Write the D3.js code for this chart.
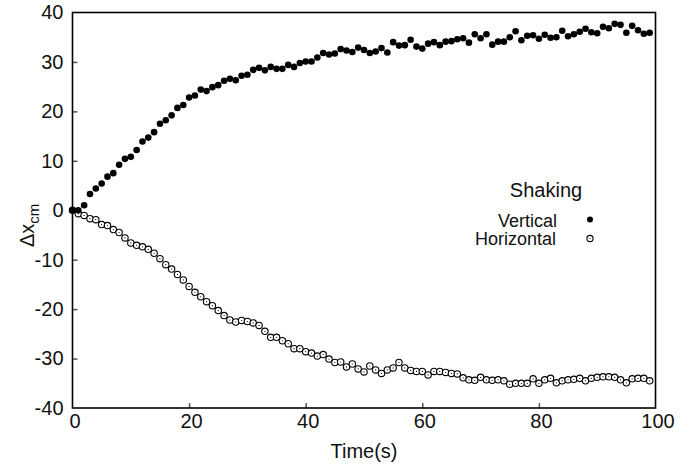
<!DOCTYPE html>
<html lang="en">
<head>
    <meta charset="UTF-8">
    <script src="https://d3js.org/d3.v7.min.js"></script>
    <title>Shaking</title>
    <style>
        body { margin: 0; background: #fff; }
        text { font-family: "Liberation Sans", Arial, sans-serif; fill: #111; }
        .tick line { stroke: #555; stroke-width: 1.5px; }
        .domain { display: none; }
    </style>
</head>
<body>
    <div id="chart"></div>
</body>
<script>
    // data
    var time = [0,1,2,3,4,5,6,7,8,9,10,11,12,13,14,15,16,17,18,19,
                20,21,22,23,24,25,26,27,28,29,30,31,32,33,34,35,36,37,38,39,
                40,41,42,43,44,45,46,47,48,49,50,51,52,53,54,55,56,57,58,59,
                60,61,62,63,64,65,66,67,68,69,70,71,72,73,74,75,76,77,78,79,
                80,81,82,83,84,85,86,87,88,89,90,91,92,93,94,95,96,97,98,99];
    var vertical = [0,0,1.0,3.3,4.4,5.4,6.8,7.5,9.2,10.4,10.8,12.2,13.9,14.7,15.8,17.5,18.2,19.2,20.7,21.3,
                    22.8,23.2,24.4,24.1,24.9,25.3,26.2,26.6,26.3,27.2,27.4,28.4,28.8,28.3,29.0,28.6,28.6,29.4,29.0,29.8,
                    30.1,30.1,30.9,31.8,31.5,31.7,32.6,32.3,32.0,32.9,32.4,31.8,32.1,32.8,31.9,34.0,33.3,33.4,34.5,33.1,
                    32.7,33.7,34.0,33.4,34.1,34.2,34.6,34.8,33.9,35.6,34.8,35.6,33.5,34.1,34.1,35.0,36.2,34.4,35.3,35.4,
                    34.7,35.5,34.9,35.0,36.3,35.2,35.6,36.1,36.7,36.0,35.8,37.1,36.8,37.7,37.5,35.9,37.3,36.4,35.7,35.9];
    var horizontal = [0,-0.7,-1.05,-1.7,-1.9,-2.9,-3.1,-3.9,-4.5,-5.6,-6.6,-7.1,-7.4,-7.9,-8.7,-9.8,-11.0,-11.9,-13.0,-14.1,
                      -15.4,-16.6,-17.5,-18.5,-19.3,-20.3,-21.3,-22.2,-22.6,-22.3,-22.5,-22.8,-23.3,-24.5,-25.7,-25.7,-26.4,-27.0,-28.0,-28.0,
                      -28.6,-28.9,-29.5,-29.2,-30.1,-30.8,-30.7,-31.7,-31.1,-32.1,-32.7,-31.5,-32.3,-33.0,-32.3,-31.9,-30.8,-31.9,-32.4,-32.6,
                      -32.6,-33.3,-32.6,-32.6,-32.8,-33.0,-33.1,-33.9,-34.3,-34.4,-33.8,-34.3,-34.4,-34.3,-34.5,-35.2,-35.0,-35.0,-35.0,-34.1,
                      -35.0,-34.3,-34.0,-34.9,-34.5,-34.3,-34.2,-34.0,-34.5,-34.0,-33.8,-33.7,-33.7,-33.8,-34.3,-34.9,-34.1,-34.0,-34.0,-34.5];
    var xTicks = [0, 20, 40, 60, 80, 100];
    var yTicks = [-40, -30, -20, -10, 0, 10, 20, 30, 40];
    var legendTitle = "Shaking";
    var seriesNames = ["Vertical", "Horizontal"];

    var W = 699, H = 468;
    var margin = {top: 12.5, right: 43.5, bottom: 60, left: 72.5};

    var svg = d3.select("#chart").append("svg")
                .attr("width", W).attr("height", H);

    var x = d3.scaleLinear().domain([0, 100]).range([margin.left, W - margin.right]);
    var y = d3.scaleLinear().domain([-40, 40]).range([H - margin.bottom, margin.top]);

    // plain hyphen for negatives, like the original
    var fmt = function(d) { return String(d); };

    // axes, ticks pointing inward
    var gx = svg.append("g").attr("transform", "translate(0," + y(-40) + ")")
        .call(d3.axisBottom(x).tickValues(xTicks).tickFormat(fmt).tickSizeInner(-5).tickSizeOuter(0).tickPadding(6));
    gx.selectAll("text").attr("font-size", 20).attr("dx", 2);
    gx.selectAll(".tick").filter(function(d) { return d === 0 || d === 100; }).select("line").remove();

    var gy = svg.append("g").attr("transform", "translate(" + x(0) + ",0)")
        .call(d3.axisLeft(y).tickValues(yTicks).tickFormat(fmt).tickSizeInner(-5).tickSizeOuter(0).tickPadding(9));
    gy.selectAll("text").attr("font-size", 20);
    gy.selectAll(".tick").filter(function(d) { return d === -40 || d === 40; }).select("line").remove();

    // frame
    svg.append("rect")
        .attr("x", x(0)).attr("y", y(40))
        .attr("width", x(100) - x(0)).attr("height", y(-40) - y(40))
        .attr("fill", "none").attr("stroke", "#000").attr("stroke-width", 1.6);

    // axis titles
    svg.append("text").attr("x", (x(0) + x(100)) / 2).attr("y", 458)
        .attr("text-anchor", "middle").attr("font-size", 20).text("Time(s)");

    var yl = svg.append("text").attr("transform", "translate(34,247) rotate(-90)")
        .attr("font-size", 20);
    yl.append("tspan").text("\u0394x");
    yl.append("tspan").attr("dy", 5).attr("font-size", 15).text("cm");

    // horizontal shaking: open circles with a dot in the middle
    var hData = time.map(function(t, i) { return [t, horizontal[i]]; });
    var hg = svg.append("g").selectAll("g").data(hData).join("g")
        .attr("transform", function(d) { return "translate(" + x(d[0]) + "," + y(d[1]) + ")"; });
    hg.append("circle").attr("r", 3.2).attr("fill", "#fff").attr("stroke", "#000").attr("stroke-width", 1.1);
    hg.append("circle").attr("r", 0.6).attr("fill", "#000");

    // vertical shaking: filled dots
    var vData = time.map(function(t, i) { return [t, vertical[i]]; });
    svg.append("g").selectAll("circle").data(vData).join("circle")
        .attr("cx", function(d) { return x(d[0]); })
        .attr("cy", function(d) { return y(d[1]); })
        .attr("r", 3.3).attr("fill", "#000");

    // legend
    var lg = svg.append("g");
    lg.append("text").attr("x", 546).attr("y", 197).attr("text-anchor", "middle")
        .attr("font-size", 20).text(legendTitle);
    lg.append("text").attr("x", 557).attr("y", 226.5).attr("text-anchor", "end")
        .attr("font-size", 18).text(seriesNames[0]);
    lg.append("text").attr("x", 556).attr("y", 244.5).attr("text-anchor", "end")
        .attr("font-size", 18).text(seriesNames[1]);
    lg.append("circle").attr("cx", 590).attr("cy", 219.5).attr("r", 3).attr("fill", "#000");
    lg.append("circle").attr("cx", 590).attr("cy", 238.5).attr("r", 3.1)
        .attr("fill", "#fff").attr("stroke", "#000").attr("stroke-width", 1.1);
    lg.append("circle").attr("cx", 590).attr("cy", 238.5).attr("r", 0.6).attr("fill", "#000");
</script>
</html>
